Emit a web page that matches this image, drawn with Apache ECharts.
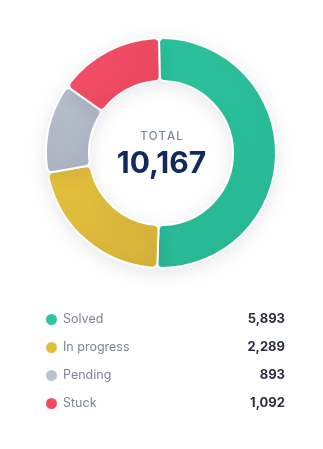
<!DOCTYPE html>
<html>
<head>
<meta charset="utf-8">
<script src="https://cdn.jsdelivr.net/npm/echarts@6/dist/echarts.min.js"></script>
<style>
html,body{margin:0;padding:0;background:#fff;}
#chart{width:323px;height:449px;}
</style>
</head>
<body>
<div id="chart"></div>
<script>
// Categories and the counts printed in the legend
const categories = ['Solved', 'In progress', 'Pending', 'Stuck'];
const counts = [5893, 2289, 893, 1092];
// Share of the ring each slice occupies, as drawn in the picture (%)
const sliceShares = [50.8, 21.7, 12.6, 14.9];
const totalLabel = 'TOTAL';
const totalValue = 10167;

const fmt = n => n.toLocaleString('en-US');
const grad = (a, b) => new echarts.graphic.LinearGradient(0, 0, 1, 1, [{offset: 0, color: a}, {offset: 1, color: b}]);
const fills = [
  grad('#2cc29e', '#29b895'),
  grad('#e6c43e', '#d4b03a'),
  grad('#bcc3cf', '#a8afbe'),
  grad('#f9506a', '#e6475c')
];
const dotColors = ['#2ec4a0', '#e2bf3b', '#bcc2ce', '#f6495f'];
const countByName = {};
categories.forEach((c, i) => countByName[c] = counts[i]);

const chart = echarts.init(document.getElementById('chart'), null, {renderer: 'canvas'});
chart.setOption({
  animation: false,
  color: dotColors,
  legend: {
    orient: 'vertical',
    left: 39,
    top: 307,
    itemWidth: 13,
    itemHeight: 13,
    itemGap: 13,
    icon: 'circle',
    selectedMode: false,
    data: categories.map((c, i) => ({name: c, itemStyle: {color: dotColors[i]}})),
    formatter: name => `{n|${name}}{v|${fmt(countByName[name])}}`,
    textStyle: {
      rich: {
        n: {width: 148, fontFamily: 'Inter', fontSize: 12.5, color: '#7c8497', lineHeight: 13},
        v: {width: 74, align: 'right', fontFamily: 'Inter', fontWeight: 'bold', fontSize: 13, color: '#2b3040', lineHeight: 13}
      }
    }
  },
  graphic: [
    {type: 'text', left: 'center', top: 131, style: {text: totalLabel.split('').join('\u200A'), fontFamily: 'Inter', fontWeight: 500, fontSize: 11.5, fill: '#7e879a'}},
    {type: 'text', left: 'center', top: 149, style: {text: fmt(totalValue), fontFamily: 'Inter', fontWeight: 'bold', fontSize: 30, fill: '#11295c'}}
  ],
  series: [{
    type: 'pie',
    center: [161, 153],
    radius: [72, 115],
    startAngle: 91,
    clockwise: true,
    silent: true,
    label: {show: false},
    labelLine: {show: false},
    itemStyle: {
      borderColor: '#fff',
      borderWidth: 2,
      borderRadius: 5,
      shadowBlur: 18,
      shadowOffsetY: 4,
      shadowColor: 'rgba(40,50,80,0.10)'
    },
    data: categories.map((c, i) => ({name: c, value: sliceShares[i], itemStyle: {color: fills[i]}}))
  }]
});
</script>
</body>
</html>
